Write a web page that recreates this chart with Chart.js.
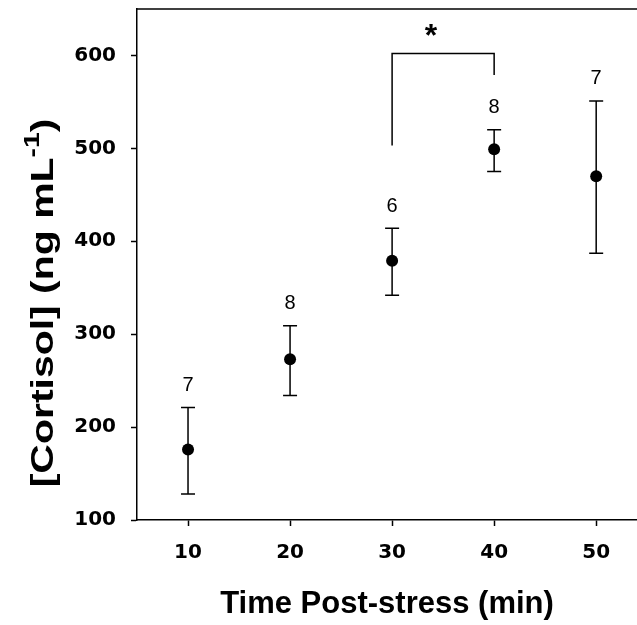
<!DOCTYPE html>
<html>
<head>
<meta charset="utf-8">
<script src="https://cdn.jsdelivr.net/npm/chart.js@4.4.1/dist/chart.umd.min.js"></script>
<style>
  html, body { margin: 0; padding: 0; background: #fff; overflow: hidden; }
  #wrap { width: 637px; height: 625px; }
</style>
</head>
<body>
<div id="wrap"><canvas id="chart" width="637" height="625"></canvas></div>
<script>
// values
const times = [10, 20, 30, 40, 50];
const cortisol = [176, 273, 379, 499, 470];
const errUpper = [221, 309, 414, 520, 551];
const errLower = [128, 234, 342, 475, 387];
const sampleSizes = [7, 8, 6, 8, 7];
const xTicks = [10, 20, 30, 40, 50];
const yTicks = [100, 200, 300, 400, 500, 600];
// significance bracket between 30 and 40 min
const bracketX = [30, 30, 40, 40];
const bracketY = [503, 602, 602, 579];
const starPos = [33.8, 624];

const FONT = "'Liberation Sans', Arial, sans-serif";
const TICK_FONT = "'DejaVu Sans', 'Liberation Sans', sans-serif";
Chart.defaults.font.family = FONT;

const extras = {
  id: 'extras',
  afterDatasetsDraw(chart) {
    const { ctx, chartArea, scales } = chart;
    const x = scales.x, y = scales.y;
    ctx.save();
    ctx.strokeStyle = '#000';
    ctx.fillStyle = '#000';

    // top frame line (no right border, plot runs off the edge)
    ctx.lineWidth = 1.5;
    ctx.beginPath();
    ctx.moveTo(chartArea.left, chartArea.top);
    ctx.lineTo(chartArea.right, chartArea.top);
    ctx.stroke();

    // error bars
    times.forEach((t, i) => {
      const px = x.getPixelForValue(t);
      const top = y.getPixelForValue(errUpper[i]);
      const bot = y.getPixelForValue(errLower[i]);
      ctx.beginPath();
      ctx.moveTo(px, top); ctx.lineTo(px, bot);
      ctx.moveTo(px - 7, top); ctx.lineTo(px + 7, top);
      ctx.moveTo(px - 7, bot); ctx.lineTo(px + 7, bot);
      ctx.stroke();

      // n above each bar
      ctx.font = '20px ' + FONT;
      ctx.textAlign = 'center';
      ctx.textBaseline = 'middle';
      ctx.fillText(String(sampleSizes[i]), px, top - 22);
    });

    // asterisk
    ctx.font = 'bold 32px ' + FONT;
    ctx.textAlign = 'center';
    ctx.textBaseline = 'middle';
    ctx.fillText('*', x.getPixelForValue(starPos[0]), y.getPixelForValue(starPos[1]) + 4);

    // x title
    ctx.font = 'bold 31px ' + FONT;
    ctx.fillText('Time Post-stress (min)', 387, 604);

    // y title with superscript, stretched along its length like the original
    ctx.translate(42, 303);
    ctx.rotate(-Math.PI / 2);
    ctx.scale(1.28, 1);
    const main = '[Cortisol] (ng mL';
    const sup = '-1';
    const close = ')';
    const bigF = 'bold 32px ' + FONT, smallF = 'bold 22px ' + FONT;
    ctx.font = bigF;
    const w1 = ctx.measureText(main).width;
    const w3 = ctx.measureText(close).width;
    ctx.font = smallF;
    const w2 = ctx.measureText(sup).width;
    let sx = -(w1 + w2 + w3) / 2;
    ctx.textAlign = 'left';
    ctx.textBaseline = 'alphabetic';
    ctx.font = bigF;
    ctx.fillText(main, sx, 11);
    ctx.font = smallF;
    ctx.fillText(sup, sx + w1, -3);
    ctx.font = bigF;
    ctx.fillText(close, sx + w1 + w2, 11);
    ctx.restore();
  }
};

const axisGrid = {
  display: true,
  drawOnChartArea: false,
  drawTicks: true,
  tickLength: 6,
  tickWidth: 1.5,
  tickColor: '#000'
};

function noPad(scale) {
  scale.paddingTop = 0;
  scale.paddingBottom = 0;
  scale.paddingLeft = 0;
  scale.paddingRight = 0;
}

new Chart(document.getElementById('chart'), {
  type: 'scatter',
  data: {
    datasets: [
      {
        label: 'Cortisol',
        data: times.map((t, i) => ({ x: t, y: cortisol[i] })),
        pointRadius: 6,
        pointBackgroundColor: '#000',
        pointBorderColor: '#000',
        pointBorderWidth: 0
      },
      {
        type: 'line',
        label: 'bracket',
        data: bracketX.map((bx, i) => ({ x: bx, y: bracketY[i] })),
        borderColor: '#000',
        borderWidth: 1.5,
        pointRadius: 0,
        fill: false,
        tension: 0
      }
    ]
  },
  options: {
    responsive: false,
    animation: false,
    layout: { autoPadding: false, padding: { top: 9, right: 0, left: 0, bottom: 0 } },
    plugins: {
      legend: { display: false },
      tooltip: { enabled: false }
    },
    scales: {
      x: {
        type: 'linear',
        min: 5,
        max: 54,
        afterBuildTicks: axis => { axis.ticks = xTicks.map(v => ({ value: v })); },
        afterFit: scale => { scale.height = 105; noPad(scale); },
        grid: axisGrid,
        border: { display: true, color: '#000', width: 1.5 },
        ticks: {
          color: '#000',
          font: { family: TICK_FONT, size: 20, weight: 'bold' },
          padding: 15,
          maxRotation: 0
        }
      },
      y: {
        type: 'linear',
        min: 100,
        max: 650,
        afterBuildTicks: axis => { axis.ticks = yTicks.map(v => ({ value: v })); },
        afterFit: scale => { scale.width = 137; noPad(scale); },
        grid: axisGrid,
        border: { display: true, color: '#000', width: 1.5 },
        ticks: {
          color: '#000',
          font: { family: TICK_FONT, size: 20, weight: 'bold' },
          padding: 15
        }
      }
    }
  },
  plugins: [extras]
});
</script>
</body>
</html>
